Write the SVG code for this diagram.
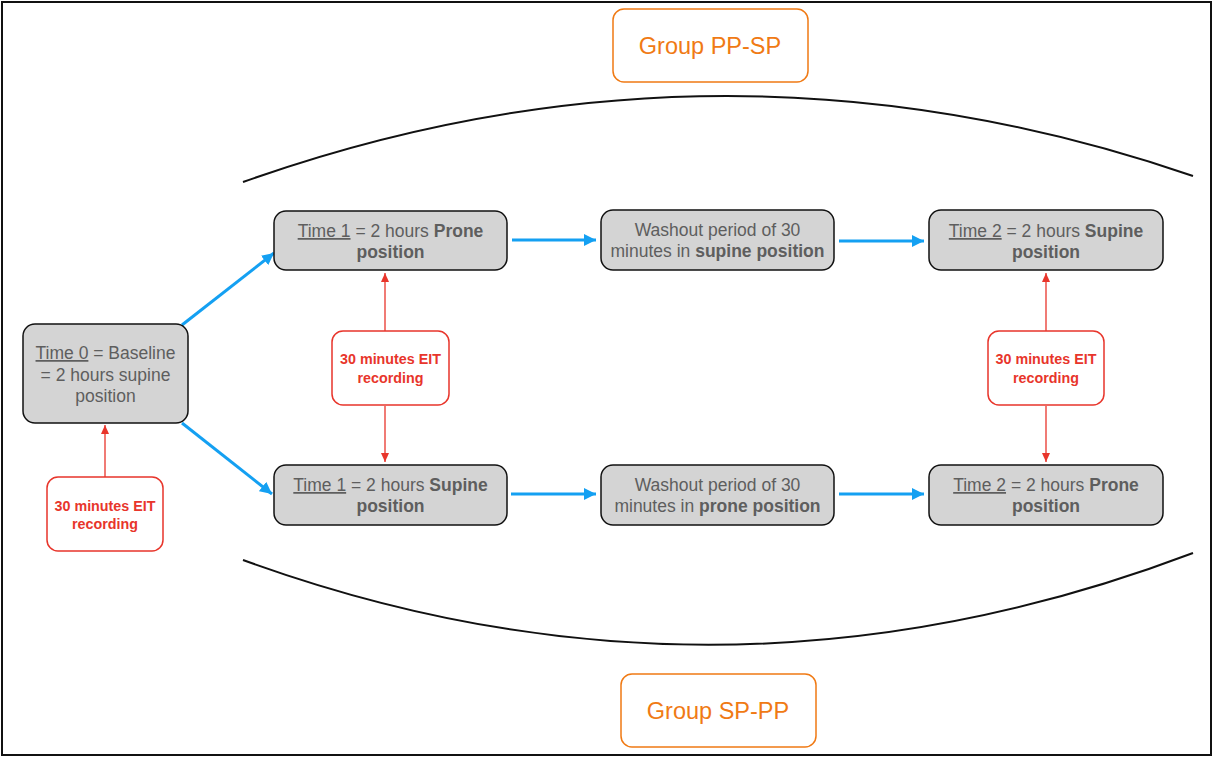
<svg xmlns="http://www.w3.org/2000/svg" width="1213" height="757" viewBox="0 0 1213 757">
<defs>
<style>
.node rect{fill:#d4d4d4;stroke:#111;stroke-width:1.5}
.node text{font-family:"Liberation Sans",Arial,sans-serif;font-size:17.5px;fill:#5e5e5e;text-anchor:middle}
.rec rect{fill:#fff;stroke:#e8352b;stroke-width:1.5}
.rec text{font-family:"Liberation Sans",Arial,sans-serif;font-size:14.3px;font-weight:bold;fill:#e8352b;text-anchor:middle}
.grp rect{fill:#fff;stroke:#f07a14;stroke-width:1.5}
.grp text{font-family:"Liberation Sans",Arial,sans-serif;font-size:23.5px;fill:#f07a14;text-anchor:middle}
.b{font-weight:bold}
.u{text-decoration:underline}
.blue{stroke:#14a0f2;stroke-width:3;fill:none;marker-end:url(#ab)}
.red{stroke:#e8352b;stroke-width:1.3;fill:none;marker-end:url(#ar)}
</style>
<marker id="ab" markerUnits="userSpaceOnUse" markerWidth="14" markerHeight="12" refX="12" refY="6" orient="auto"><path d="M0,0 L12,6 L0,12 Z" fill="#14a0f2"/></marker>
<marker id="ar" markerUnits="userSpaceOnUse" markerWidth="10" markerHeight="10" refX="9" refY="4" orient="auto"><path d="M0,0 L9,4 L0,8 Z" fill="#e8352b"/></marker>
</defs>
<rect x="0" y="0" width="1213" height="757" fill="#fff"/>
<rect x="2" y="2" width="1209" height="753" fill="none" stroke="#111" stroke-width="2"/>
<g id="arcs" fill="none" stroke="#111" stroke-width="2">
<path d="M243,182 Q718,13 1193,176"/>
<path d="M243,560 Q718,733 1193,553"/>
</g>
<g id="connectors">
<path class="blue" d="M182,325 L274,253"/>
<path class="blue" d="M182,423 L272,494"/>
<path class="blue" d="M512,240 L596,240"/>
<path class="blue" d="M839,241 L924,241"/>
<path class="blue" d="M511,494 L596,494"/>
<path class="blue" d="M839,494 L924,494"/>
<path class="red" d="M105,477 L105,425"/>
<path class="red" d="M385,331 L385,273"/>
<path class="red" d="M385,406 L385,462"/>
<path class="red" d="M1046,331 L1046,273"/>
<path class="red" d="M1046,406 L1046,462"/>
</g>
<g id="group-pp-sp" class="grp"><rect x="613" y="9" width="195" height="73" rx="11"/><text x="710" y="54">Group PP-SP</text></g>
<g id="group-sp-pp" class="grp"><rect x="621" y="674" width="195" height="73" rx="11"/><text x="718" y="719">Group SP-PP</text></g>
<g id="time0" class="node"><rect x="23" y="324" width="165" height="99" rx="12"/>
<text x="105.5" y="359"><tspan class="u">Time 0</tspan> = Baseline</text>
<text x="105.5" y="381">= 2 hours supine</text>
<text x="105.5" y="402">position</text></g>
<g id="t1-prone" class="node"><rect x="274" y="211" width="233" height="59" rx="12"/>
<text x="390.5" y="237"><tspan class="u">Time 1</tspan> = 2 hours <tspan class="b">Prone</tspan></text>
<text x="390.5" y="258" class="b">position</text></g>
<g id="washout-supine" class="node"><rect x="601" y="210" width="233" height="60" rx="12"/>
<text x="717.5" y="236">Washout period of 30</text>
<text x="717.5" y="257">minutes in <tspan class="b">supine position</tspan></text></g>
<g id="t2-supine" class="node"><rect x="929" y="210" width="234" height="60" rx="12"/>
<text x="1046" y="237"><tspan class="u">Time 2</tspan> = 2 hours <tspan class="b">Supine</tspan></text>
<text x="1046" y="258" class="b">position</text></g>
<g id="t1-supine" class="node"><rect x="274" y="465" width="233" height="60" rx="12"/>
<text x="390.5" y="491"><tspan class="u">Time 1</tspan> = 2 hours <tspan class="b">Supine</tspan></text>
<text x="390.5" y="512" class="b">position</text></g>
<g id="washout-prone" class="node"><rect x="601" y="465" width="233" height="60" rx="12"/>
<text x="717.5" y="491">Washout period of 30</text>
<text x="717.5" y="512">minutes in <tspan class="b">prone position</tspan></text></g>
<g id="t2-prone" class="node"><rect x="929" y="465" width="234" height="60" rx="12"/>
<text x="1046" y="491"><tspan class="u">Time 2</tspan> = 2 hours <tspan class="b">Prone</tspan></text>
<text x="1046" y="512" class="b">position</text></g>
<g id="eit-left" class="rec"><rect x="47" y="477" width="116" height="74" rx="11"/>
<text x="105" y="511">30 minutes EIT</text><text x="105" y="529">recording</text></g>
<g id="eit-mid" class="rec"><rect x="332" y="331" width="117" height="74" rx="11"/>
<text x="390.5" y="364">30 minutes EIT</text><text x="390.5" y="383">recording</text></g>
<g id="eit-right" class="rec"><rect x="988" y="331" width="116" height="74" rx="11"/>
<text x="1046" y="364">30 minutes EIT</text><text x="1046" y="383">recording</text></g>
</svg>
